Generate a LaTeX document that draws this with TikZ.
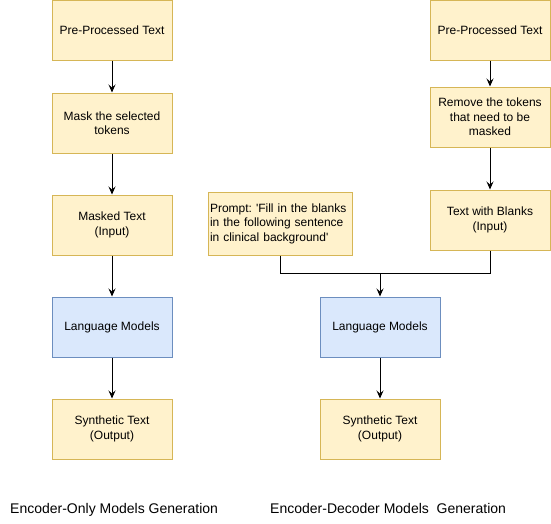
\documentclass[tikz,border=0pt]{standalone}
\usepackage{tikz}
\usepackage{xcolor}
\usepackage{fontspec}
\setmainfont{Liberation Sans}[Ligatures=TeXOff]
\usetikzlibrary{arrows.meta}
\definecolor{boxfill}{HTML}{FFF2CC}
\definecolor{boxline}{HTML}{D6B656}
\definecolor{lmfill}{HTML}{DAE8FC}
\definecolor{lmline}{HTML}{6C8EBF}
\frenchspacing

\begin{document}
\begin{tikzpicture}[
            x = 1pt, y = -1pt,
            every node/.style = {font = \fontsize{12}{14.4}\selectfont},
            txtbox/.style = {draw = boxline, fill = boxfill, line width = 1pt, minimum width = 120pt, minimum height = 60pt, align = center, inner sep = 1pt},
            lmbox/.style = {txtbox, draw = lmline, fill = lmfill},
            caption/.style = {font = \fontsize{14}{16}\selectfont, anchor = base west, inner sep = 0pt},
            flow/.style = {draw, line width = 1pt, -{Stealth[length = 8pt, width = 7pt, inset = 3pt]}}
        ]
        \useasboundingbox (0,0) rectangle (551,523);
        % encoder-only
        \node[txtbox] (L1) at (112,30) {Pre-Processed Text};
        \node[txtbox] (L2) at (112,123) {Mask the selected\\tokens};
        \node[txtbox] (L3) at (112,225) {Masked Text\\(Input)};
        \node[lmbox] (L4) at (112,327) {Language Models};
        \node[txtbox] (L5) at (112,429) {Synthetic Text\\(Output)};
        % encoder-decoder
        \node[txtbox] (R1) at (490,30) {Pre-Processed Text};
        \node[txtbox] (R2) at (490,117) {Remove the tokens\\that need to be\\masked};
        \node[txtbox] (R3) at (490,220) {Text with Blanks\\(Input)};
        \node[txtbox, minimum width = 144pt, minimum height = 63pt, text width = 140pt, align = left, inner sep = 2pt] (P) at (280,223.5) {Prompt: 'Fill in the blanks in the following sentence in clinical background'};
        \node[lmbox] (R4) at (380,327) {Language Models};
        \node[txtbox] (R5) at (380,429) {Synthetic Text\\(Output)};
        \coordinate (J) at (380,273.5);
        \node[caption] (CL) at (10,513) {Encoder-Only Models Generation};
        \node[caption] (CR) at (270,513) {Encoder-Decoder Models\ \ Generation};
        \foreach \a/\b in {L1/L2, L2/L3, L3/L4, L4/L5, R1/R2, R2/R3, R4/R5}
            \path[flow] (\a) -- (\b);
        \draw[line width = 1pt] (R3.south) |- (J);
        \path[flow] (P.south) |- (J) -- (R4);
    \end{tikzpicture}
\end{document}
